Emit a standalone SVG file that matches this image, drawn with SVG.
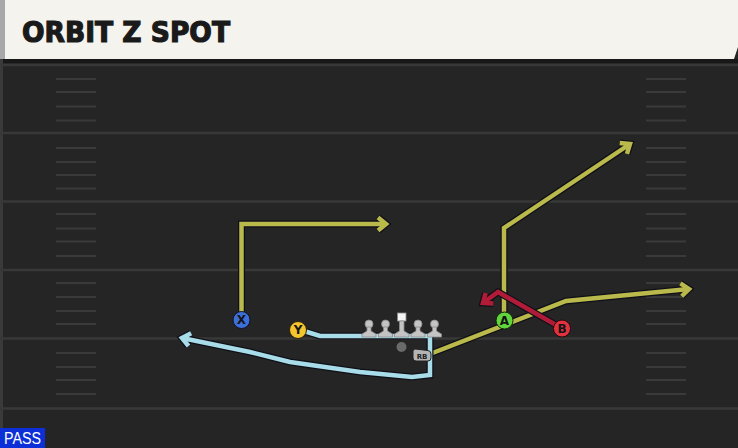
<svg xmlns="http://www.w3.org/2000/svg" width="738" height="448" viewBox="0 0 738 448">
<defs>
<style>
.yard{stroke:#383838;stroke-width:2.5}
.hash{stroke:#3a3a3a;stroke-width:2}
.out{fill:none;stroke:#101018;stroke-width:7;stroke-linejoin:miter}
.olive{fill:none;stroke:#b9b94c;stroke-width:4.5;stroke-linejoin:miter}
.blue{fill:none;stroke:#a8dce8;stroke-width:4.5;stroke-linejoin:miter}
.red{fill:none;stroke:#b01c38;stroke-width:4.5;stroke-linejoin:miter}
.lbl{font-family:"DejaVu Sans","Liberation Sans",sans-serif;font-weight:bold;font-size:12px;fill:#151515;text-anchor:middle}
.ol{fill:#c4c4c4;stroke:#8a8a8a;stroke-width:0.8}
</style>
<marker id="mOut" markerUnits="userSpaceOnUse" markerWidth="30" markerHeight="30" refX="0" refY="0" viewBox="-15 -15 30 30" orient="auto" overflow="visible">
<path d="M-8,-6.5 L0,0 L-8,6.5" fill="none" stroke="#101018" stroke-width="7" stroke-linejoin="miter"/>
</marker>
<marker id="mOlive" markerUnits="userSpaceOnUse" markerWidth="30" markerHeight="30" refX="0" refY="0" viewBox="-15 -15 30 30" orient="auto" overflow="visible">
<path d="M-8,-6.5 L0,0 L-8,6.5" fill="none" stroke="#b9b94c" stroke-width="4.5" stroke-linejoin="miter"/>
</marker>
<marker id="mBlue" markerUnits="userSpaceOnUse" markerWidth="30" markerHeight="30" refX="0" refY="0" viewBox="-15 -15 30 30" orient="auto" overflow="visible">
<path d="M-8,-6.5 L0,0 L-8,6.5" fill="none" stroke="#a8dce8" stroke-width="4.5" stroke-linejoin="miter"/>
</marker>
<marker id="mRed" markerUnits="userSpaceOnUse" markerWidth="30" markerHeight="30" refX="0" refY="0" viewBox="-15 -15 30 30" orient="auto" overflow="visible">
<path d="M-8,-6.5 L0,0 L-8,6.5" fill="none" stroke="#b01c38" stroke-width="4.5" stroke-linejoin="miter"/>
</marker>
</defs>

<!-- field -->
<rect x="0" y="0" width="738" height="448" fill="#252525"/>
<rect x="0" y="59" width="738" height="4" fill="#181818"/>
<rect x="0" y="59" width="3" height="389" fill="#3a3a3a"/>

<g id="yardlines">
<line class="yard" x1="0" y1="65" x2="738" y2="65"/>
<line class="yard" x1="0" y1="133" x2="738" y2="133"/>
<line class="yard" x1="0" y1="201.5" x2="738" y2="201.5"/>
<line class="yard" x1="0" y1="270" x2="738" y2="270"/>
<line class="yard" x1="0" y1="338.5" x2="738" y2="338.5"/>
<line class="yard" x1="0" y1="408.5" x2="738" y2="408.5"/>
</g>
<g id="hashes">
<path class="hash" d="M56,79H96M56,92H96M56,106.5H96M56,120.5H96M56,148H96M56,162H96M56,175H96M56,188.5H96M56,214H96M56,228.5H96M56,241.5H96M56,256H96M56,283H96M56,297H96M56,311H96M56,324H96M56,353H96M56,367H96M56,380H96M56,394H96"/>
<path class="hash" d="M646,79H686M646,92H686M646,106.5H686M646,120.5H686M646,148H686M646,162H686M646,175H686M646,188.5H686M646,214H686M646,228.5H686M646,241.5H686M646,256H686M646,283H686M646,297H686M646,311H686M646,324H686M646,353H686M646,367H686M646,380H686M646,394H686"/>
</g>

<!-- header -->
<g id="header">
<polygon points="0,0 738,0 738,47 734,59 0,59" fill="#f5f3ed"/>
<rect x="0" y="0" width="5" height="59" fill="#a8a8a8"/>
<text x="22" y="42" font-family="DejaVu Sans, Liberation Sans, sans-serif" font-weight="bold" font-size="28" fill="#1a1a1a" stroke="#1a1a1a" stroke-width="1.2" textLength="208" lengthAdjust="spacingAndGlyphs">ORBIT Z SPOT</text>
</g>

<!-- connectors -->
<g id="connectors">
<!-- X route -->
<path class="out" d="M241.5,312 V224 H386" marker-end="url(#mOut)"/>
<path class="olive" d="M241.5,312 V224 H386" marker-end="url(#mOlive)"/>
<!-- A route -->
<path class="out" d="M504,312 V228 L630,144" marker-end="url(#mOut)"/>
<path class="olive" d="M504,312 V228 L630,144" marker-end="url(#mOlive)"/>
<!-- RB route -->
<path class="out" d="M430,354 L566,301 L689,289" marker-end="url(#mOut)"/>
<path class="olive" d="M430,354 L566,301 L689,289" marker-end="url(#mOlive)"/>
<!-- B route -->
<path class="out" d="M556,325 L498,292 L483,303" marker-end="url(#mOut)"/>
<path class="red" d="M556,325 L498,292 L483,303" marker-end="url(#mRed)"/>
<!-- Y route -->
<path class="out" d="M304,331 L320,336 H430 V375 L412,377 L360,372 L290,362 L250,352 L182,338" marker-end="url(#mOut)"/>
<path class="blue" d="M304,331 L320,336 H430 V375 L412,377 L360,372 L290,362 L250,352 L182,338" marker-end="url(#mBlue)"/>
</g>

<!-- offensive line -->
<g id="lt"><circle class="ol" cx="369" cy="324" r="4"/><path class="ol" d="M367,327 H371 V331 L376,334 V337 H362 V334 L367,331 Z"/></g>
<g id="lg"><circle class="ol" cx="385.5" cy="324" r="4"/><path class="ol" d="M383.5,327 H387.5 V331 L392.5,334 V337 H378.5 V334 L383.5,331 Z"/></g>
<g id="c"><rect x="397.5" y="313" width="8.5" height="8" fill="#f4f4f4" stroke="#8a8a8a" stroke-width="0.8"/><path class="ol" d="M399.5,321 H404 V331 L409,334 V337 H394.5 V334 L399.5,331 Z"/></g>
<g id="rg"><circle class="ol" cx="418" cy="324" r="4"/><path class="ol" d="M416,327 H420 V331 L425,334 V337 H411 V334 L416,331 Z"/></g>
<g id="rt"><circle class="ol" cx="434.5" cy="324" r="4"/><path class="ol" d="M432.5,327 H436.5 V331 L441.5,334 V337 H427.5 V334 L432.5,331 Z"/></g>

<g id="qb"><circle cx="401.5" cy="347" r="5" fill="#6a6a6a"/></g>
<g id="rb">
<path d="M415,349 L428,350.5 Q431,351 431,354 V358 Q431,361 428,361 H416 Q413,361 413,358 V351.5 Q413,349 415,349 Z" fill="#b4b4b4" stroke="#222" stroke-width="1"/>
<text x="422" y="358.5" font-family="DejaVu Sans, Liberation Sans, sans-serif" font-weight="bold" font-size="7" fill="#222" text-anchor="middle">RB</text>
</g>

<!-- skill players -->
<g id="x"><circle cx="241.5" cy="320" r="8.5" fill="#3d6fd8" stroke="#10152a" stroke-width="1"/><text class="lbl" x="241.5" y="324.3">X</text></g>
<g id="y"><circle cx="298" cy="330" r="8.5" fill="#f3c52e" stroke="#2a2008" stroke-width="1"/><text class="lbl" x="298" y="334.3">Y</text></g>
<g id="a"><circle cx="504.5" cy="320.5" r="8.5" fill="#62d43c" stroke="#102a08" stroke-width="1"/><text class="lbl" x="504.5" y="324.8">A</text></g>
<g id="b"><circle cx="562" cy="328.5" r="8.5" fill="#e2323f" stroke="#2a080c" stroke-width="1"/><text class="lbl" x="562" y="332.8">B</text></g>

<g id="pass">
<rect x="0" y="428" width="45" height="20" fill="#0d2fd8"/>
<text x="4" y="444" font-family="Liberation Sans, DejaVu Sans, sans-serif" font-size="16" fill="#ffffff" textLength="37" lengthAdjust="spacingAndGlyphs">PASS</text>
</g>
</svg>
